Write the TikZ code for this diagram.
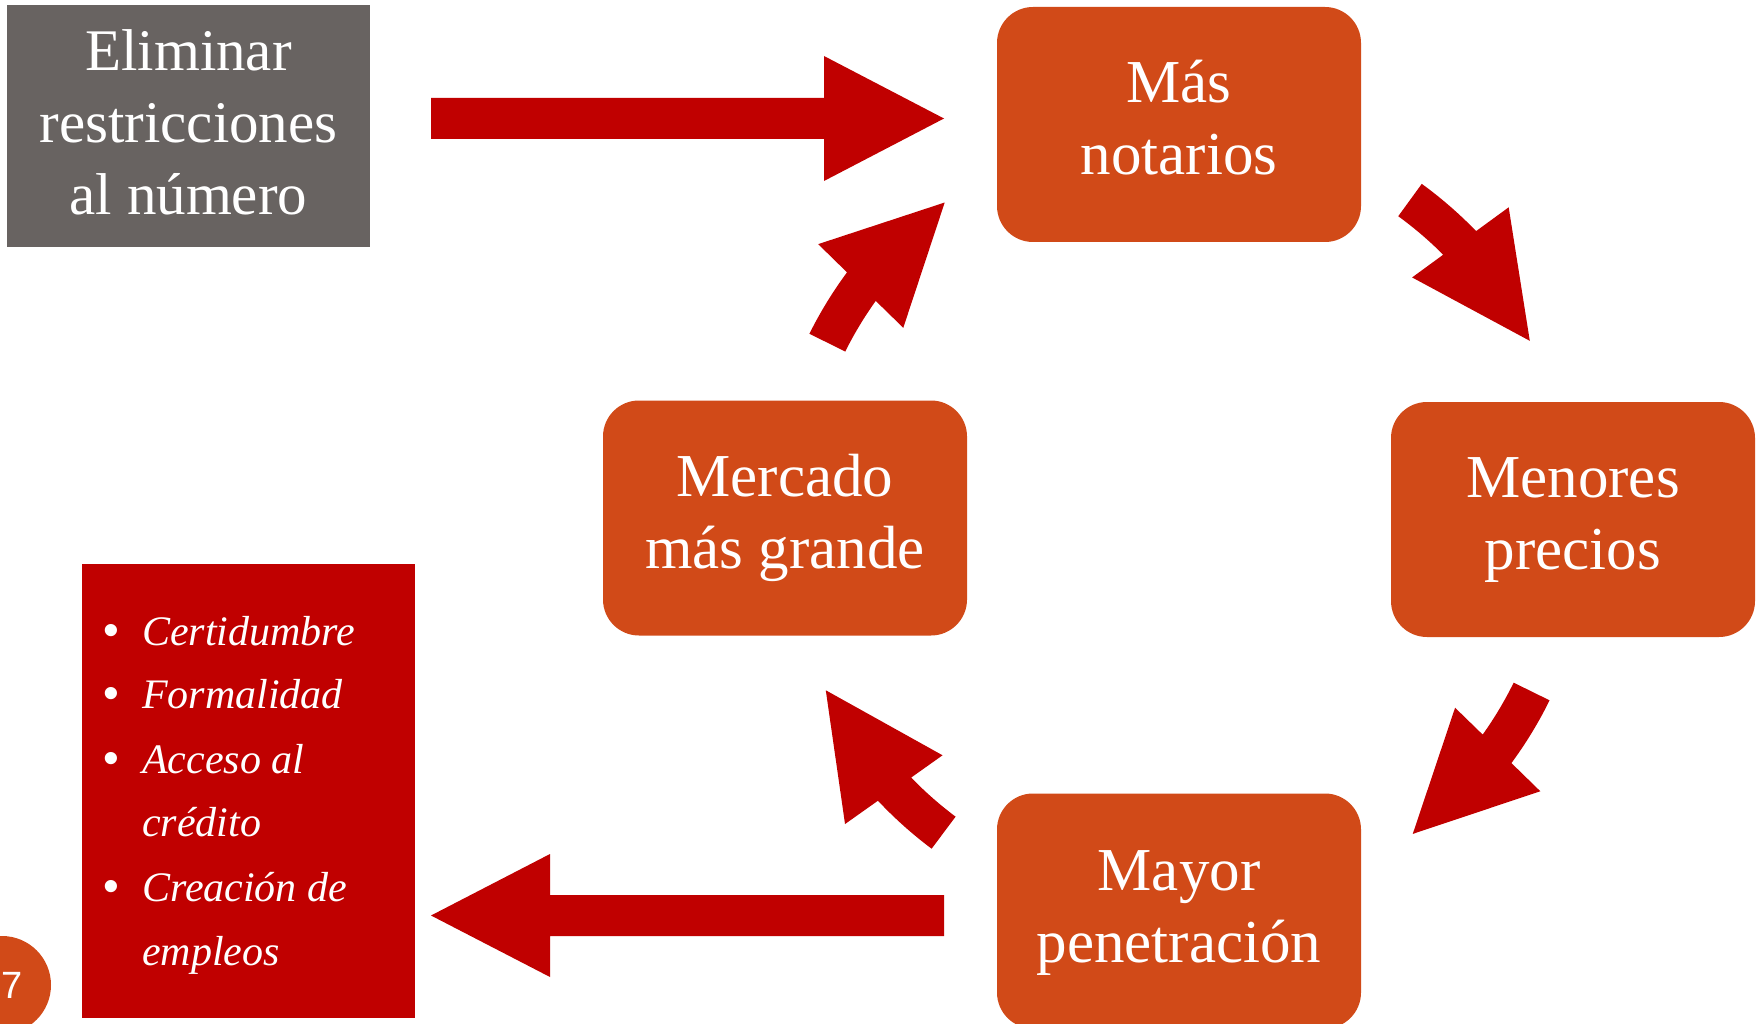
\documentclass[tikz,border=0pt]{standalone}
\usepackage{fontspec}
\setmainfont{Liberation Serif}
\newfontfamily\numfont{Liberation Sans}
\usetikzlibrary{calc}
\definecolor{boxorange}{HTML}{D14A18}
\definecolor{arrowred}{HTML}{C00000}
\definecolor{boxgray}{HTML}{686361}
\tikzset{
  cyclebox/.style={fill=boxorange, draw=none, rounded corners=36pt, minimum width=364pt, minimum height=235pt, inner sep=0pt},
  boxtext/.style={text=white, align=center, anchor=base, inner sep=0pt, font=\fontsize{61}{72}\selectfont},
  listline/.style={text=white, anchor=base west, inner sep=0pt, font=\fontsize{42}{64}\selectfont\itshape},
  listbullet/.style={text=white, anchor=base, inner sep=0pt, font=\numfont\fontsize{45}{64}\selectfont},
  blockarrow/.style={fill=arrowred, draw=none},
}
% curved block arrow around centre C: #1 start angle, #2 head base angle, #3 tip angle
\newcommand\cyclearrow[3]{%
  \fill[blockarrow] ($(C)+(#1:413)$) arc[start angle=#1, end angle=#2+0.5, radius=413]
    -- ($(C)+(#2+1.2:453)$) -- ($(C)+(#3:393)$) -- ($(C)+(#2-1.4:335)$) -- ($(C)+(#2-0.4:373)$)
    arc[start angle=#2-0.4, end angle=#1, radius=373] -- cycle;}
\begin{document}
\begin{tikzpicture}[x=1pt,y=-1pt]
\useasboundingbox (0,0) rectangle (1761,1024);
\clip (0,0) rectangle (1761,1024);

% grey source box
\node[fill=boxgray, draw=none, minimum width=363pt, minimum height=242pt, inner sep=0pt] (gray) at (188.5,126) {};
\node[boxtext, font=\fontsize{59}{72}\selectfont] (gray-t) at ($(gray.center)+(0,89)$) {Eliminar\\restricciones\\al número};

% cycle boxes
\node[cyclebox] (notarios) at (1179,124.5) {};
\node[boxtext] (notarios-t) at ($(notarios.center)+(0,50.5)$) {Más\\notarios};
\node[cyclebox] (mercado) at (785,518) {};
\node[boxtext] (mercado-t) at ($(mercado.center)+(0,50)$) {Mercado\\más grande};
\node[cyclebox] (menores) at (1573,519.5) {};
\node[boxtext] (menores-t) at ($(menores.center)+(0,49.5)$) {Menores\\precios};
\node[cyclebox] (mayor) at (1179,911) {};
\node[boxtext] (mayor-t) at ($(mayor.center)+(0,51)$) {Mayor\\penetración};

\coordinate (C) at (mercado -| notarios);

% curved cycle arrows
\cyclearrow{206.5}{216}{233.4}
\cyclearrow{306}{315.5}{333.2}
\cyclearrow{26.2}{35.9}{53.5}
\cyclearrow{126.8}{136.3}{154}

% straight arrows
\coordinate (ta-s) at (431,118.5);
\coordinate (ta-e) at (944,118.5);
\fill[blockarrow] ($(ta-s)+(0,-20.5)$) -- ($(ta-e)+(-120,-20.5)$) -- ($(ta-e)+(-120,-62.5)$) -- (ta-e)
  -- ($(ta-e)+(-120,62.5)$) -- ($(ta-e)+(-120,20.5)$) -- ($(ta-s)+(0,20.5)$) -- cycle;
\coordinate (ba-s) at (944,915.5);
\coordinate (ba-e) at (431,915.5);
\fill[blockarrow] ($(ba-s)+(0,-20.5)$) -- ($(ba-e)+(119,-20.5)$) -- ($(ba-e)+(119,-61.5)$) -- (ba-e)
  -- ($(ba-e)+(119,61.5)$) -- ($(ba-e)+(119,20.5)$) -- ($(ba-s)+(0,20.5)$) -- cycle;

% result box with list
\node[fill=arrowred, draw=none, minimum width=333pt, minimum height=454pt, inner sep=0pt] (result) at (248.5,791) {};
\node[listbullet] (b1) at (111,645) {•};
\node[listline] (l1) at (142,645) {Certidumbre};
\node[listbullet] (b2) at (111,708) {•};
\node[listline] (l2) at (142,708) {Formalidad};
\node[listbullet] (b3) at (111,773) {•};
\node[listline] (l3) at (142,773) {Acceso al};
\node[listline] (l4) at (142,836) {crédito};
\node[listbullet] (b5) at (111,901) {•};
\node[listline] (l5) at (142,901) {Creación de};
\node[listline] (l6) at (142,965) {empleos};

% page number
\node[circle, fill=boxorange, draw=none, minimum size=98pt, inner sep=0pt, text=white, font=\numfont\fontsize{38}{38}\selectfont] (page) at (2,985) {17};
\end{tikzpicture}
\end{document}
